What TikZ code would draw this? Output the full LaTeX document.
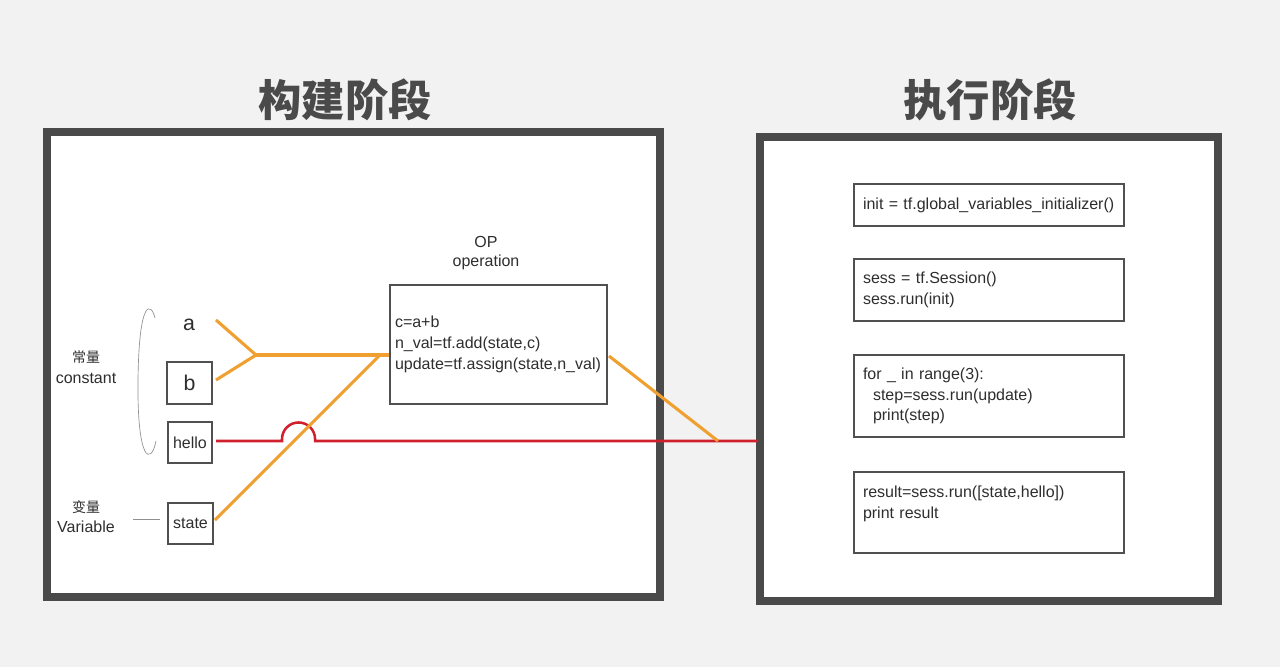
\documentclass[tikz,border=0pt]{standalone}
\usepackage{fontspec}
\setmainfont{Liberation Sans}
\newfontfamily\cjk{Noto Sans CJK SC}
\definecolor{bg}{HTML}{F2F2F2}
\definecolor{framec}{HTML}{4A4A4A}
\definecolor{ink}{HTML}{2E2E2E}
\definecolor{orangeL}{HTML}{EFA030}
\definecolor{redL}{HTML}{D0202E}
\definecolor{boxline}{HTML}{505050}
\definecolor{bracketc}{HTML}{909090}
\begin{document}
\begin{tikzpicture}[x=0.75pt,y=-0.75pt,
  framebox/.style={draw=framec, line width=6pt, fill=white, inner sep=0pt},
  titletext/.style={font=\cjk\bfseries\fontsize{32.5}{36}\selectfont, text=framec, inner sep=0pt},
  lbl/.style={font=\fontsize{12}{14}\selectfont, text=ink, inner sep=0pt},
  cjklbl/.style={font=\cjk\fontsize{10.5}{12}\selectfont, text=ink, inner sep=0pt},
  smallbox/.style={draw=boxline, line width=0.8pt, fill=white, inner sep=0pt, text=ink},
  codebox/.style={draw=boxline, line width=0.8pt, fill=white, align=left, text width=#1,
     inner xsep=6.75pt, inner ysep=0pt, text=ink, font=\fontsize{12}{15.4}\selectfont},
  opline/.style={draw=orangeL, line width=2.3pt},
  redline/.style={draw=redL, line width=1.9pt},
  bracket/.style={draw=bracketc, line width=0.5pt}
]
\fill[bg] (0,0) rectangle (1280,667);
\useasboundingbox (0,0) rectangle (1280,667);

% frames
\node[framebox, minimum width=459.75pt, minimum height=348.75pt] (build) at (353.5,364.5) {};
\node[framebox, minimum width=343.5pt, minimum height=348pt] (exec) at (989,369) {};

% titles
\node[titletext] (buildtitle) at (345,100) {构建阶段};
\node[titletext] (exectitle) at (990,100) {执行阶段};

% left labels
\node[cjklbl] (constcn) at (86,357) {常量};
\node[lbl] (constEn) at (86,378) {constant};
\node[cjklbl] (varcn) at (86,507) {变量};
\node[lbl] (varEn) at (86,527) {Variable};

% bracket
\coordinate (brtop) at (155,318);
\coordinate (brbot) at (156,441);
\draw[bracket] (brtop) .. controls (151,302) and (139,298) .. (138,380)
   .. controls (137,462) and (151,466) .. (brbot);
\coordinate (varlineA) at (133,519);
\coordinate (varlineB) at (160,519);
\draw[bracket] (varlineA) -- (varlineB);

% small nodes
\node[text=ink, inner sep=0pt, font=\fontsize{16}{18}\selectfont] (a) at (189,325) {a};
\node[smallbox, minimum width=33.75pt, minimum height=31.5pt, font=\fontsize{16}{18}\selectfont] (b) at (189.5,383) {b};
\node[smallbox, minimum width=33pt, minimum height=30.75pt, font=\fontsize{12}{14}\selectfont] (hello) at (190,442.5) {hello};
\node[smallbox, minimum width=33.75pt, minimum height=30.75pt, font=\fontsize{12}{14}\selectfont] (state) at (190.5,523.5) {state};

% OP
\node[lbl] (optitle) at (486,242) {OP};
\node[lbl] (opsub) at (486,262) {operation};
\node[codebox=155.25pt, inner xsep=3.75pt, minimum height=89.25pt, font=\fontsize{12}{15.75}\selectfont] (op) at (498.5,344.5)
  {c=a+b\\n\_val=tf.add(state,c)\\update=tf.assign(state,n\_val)};

% right boxes
\node[codebox=189pt, minimum height=31.5pt] (init) at (989,205) {init = tf.global\_variables\_initializer()};
\node[codebox=189pt, minimum height=46.5pt] (sess) at (989,290) {sess = tf.Session()\\sess.run(init)};
\node[codebox=189pt, minimum height=61.5pt] (loop) at (989,396) {for \_ in range(3):\\\hspace*{7.5pt}step=sess.run(update)\\\hspace*{7.5pt}print(step)};
\node[codebox=189pt, minimum height=60.75pt] (result) at (989,512.5) {result=sess.run([state,hello])\\print result\\~};

% connector coordinates
\coordinate (aout) at (216,320);
\coordinate (bout) at (216,380);
\coordinate (J) at (256,355);
\coordinate (M) at (380,355);
\coordinate (stateout) at (215,520);
\coordinate (opout) at (609,356);
\coordinate (K) at (718,441);
\coordinate (helloout) at (216,441);
\coordinate (humpL) at (282,441);
\coordinate (R) at (758,441);

% red line with hump
\draw[redline] (helloout) -- (humpL) -- ++(0,-2) arc[start angle=180, end angle=0, radius=12.4pt] -- ++(0,2) -- (R);

% orange lines
\draw[opline] (aout) -- (J) -- (bout);
\draw[opline] (J) -- (J -| op.west);
\draw[opline] (stateout) -- (M);
\draw[opline] (opout) -- (K);
\end{tikzpicture}
\end{document}
